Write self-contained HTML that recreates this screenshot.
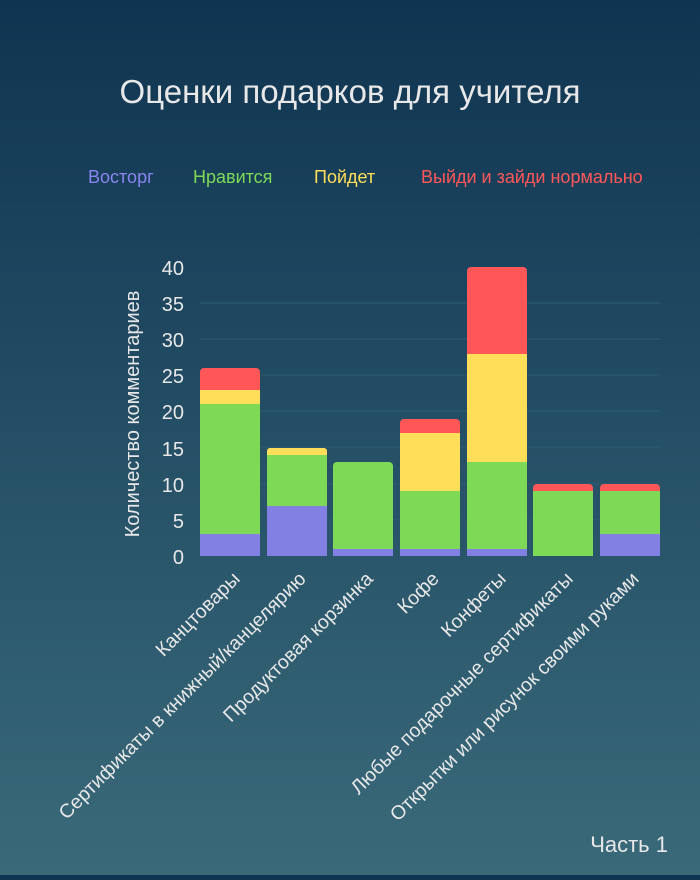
<!DOCTYPE html>
<html><head><meta charset="utf-8"><style>
html,body{margin:0;padding:0}
body{width:700px;height:875px;background:linear-gradient(#0f3451,#3a6a7a);font-family:"Liberation Sans","Noto Sans CJK SC",sans-serif;overflow:hidden}
</style></head><body>
<svg width="700" height="875" xmlns="http://www.w3.org/2000/svg" font-family="Liberation Sans, Noto Sans CJK SC, sans-serif">
<text x="350" y="103" text-anchor="middle" fill="#e8e8e8" font-size="33">Оценки подарков для учителя</text>
<g font-size="18">
<text x="88" y="183" fill="#8a84ee">Восторг</text>
<text x="193" y="183" fill="#7ed957">Нравится</text>
<text x="314" y="183" fill="#ffde59">Пойдет</text>
<text x="421" y="183" fill="#ff5757">Выйди и зайди нормально</text>
</g>
<g stroke="#2e5d70" stroke-width="1">
<line x1="200" x2="660" y1="303" y2="303"/><line x1="200" x2="660" y1="339" y2="339"/>
<line x1="200" x2="660" y1="375" y2="375"/><line x1="200" x2="660" y1="411" y2="411"/>
<line x1="200" x2="660" y1="447" y2="447"/><line x1="200" x2="660" y1="484" y2="484"/>
<line x1="200" x2="660" y1="520" y2="520"/>
</g>
<g fill="#e8e8e8" font-size="20" text-anchor="end">
<text x="184" y="275">40</text><text x="184" y="311">35</text><text x="184" y="347">30</text>
<text x="184" y="383">25</text><text x="184" y="419">20</text><text x="184" y="456">15</text>
<text x="184" y="492">10</text><text x="184" y="528">5</text><text x="184" y="564">0</text>
</g>
<text transform="translate(139,414) rotate(-90)" text-anchor="middle" fill="#e8e8e8" font-size="20">Количество комментариев</text>
<g fill="#e8e8e8" font-size="19.5" text-anchor="end">
<text transform="translate(241,580) rotate(-45)">Канцтовары</text>
<text transform="translate(307,580) rotate(-45)">Сертификаты в книжный/канцелярию</text>
<text transform="translate(374,580) rotate(-45)">Продуктовая корзинка</text>
<text transform="translate(440,580) rotate(-45)">Кофе</text>
<text transform="translate(507,580) rotate(-45)">Конфеты</text>
<text transform="translate(574,580) rotate(-45)">Любые подарочные сертификаты</text>
<text transform="translate(640,580) rotate(-45)">Открытки или рисунок своими руками</text>
</g>
<text x="668" y="852" text-anchor="end" fill="#e8e8e8" font-size="22">Часть 1</text>
<g>
<rect x="200" y="368" width="60" height="14" rx="4" fill="#ff5757"/><rect x="200" y="374" width="60" height="16" fill="#ff5757"/>
<rect x="200" y="390" width="60" height="14" fill="#ffde59"/>
<rect x="200" y="404" width="60" height="130" fill="#7ed957"/>
<rect x="200" y="534" width="60" height="22" fill="#8280e3"/>
<rect x="267" y="448" width="60" height="10" rx="3" fill="#ffde59"/><rect x="267" y="452" width="60" height="3" fill="#ffde59"/>
<rect x="267" y="455" width="60" height="51" fill="#7ed957"/>
<rect x="267" y="506" width="60" height="50" fill="#8280e3"/>
<rect x="333" y="462" width="60" height="20" rx="4" fill="#7ed957"/><rect x="333" y="470" width="60" height="79" fill="#7ed957"/>
<rect x="333" y="549" width="60" height="7" fill="#8280e3"/>
<rect x="400" y="419" width="60" height="12" rx="4" fill="#ff5757"/><rect x="400" y="425" width="60" height="8" fill="#ff5757"/>
<rect x="400" y="433" width="60" height="58" fill="#ffde59"/>
<rect x="400" y="491" width="60" height="58" fill="#7ed957"/>
<rect x="400" y="549" width="60" height="7" fill="#8280e3"/>
<rect x="467" y="267" width="60" height="20" rx="4" fill="#ff5757"/><rect x="467" y="275" width="60" height="79" fill="#ff5757"/>
<rect x="467" y="354" width="60" height="108" fill="#ffde59"/>
<rect x="467" y="462" width="60" height="87" fill="#7ed957"/>
<rect x="467" y="549" width="60" height="7" fill="#8280e3"/>
<rect x="533" y="484" width="60" height="10" rx="4" fill="#ff5757"/><rect x="533" y="488" width="60" height="3" fill="#ff5757"/>
<rect x="533" y="491" width="60" height="65" fill="#7ed957"/>
<rect x="600" y="484" width="60" height="10" rx="4" fill="#ff5757"/><rect x="600" y="488" width="60" height="3" fill="#ff5757"/>
<rect x="600" y="491" width="60" height="43" fill="#7ed957"/>
<rect x="600" y="534" width="60" height="22" fill="#8280e3"/>
</g>
</svg>
</body></html>
